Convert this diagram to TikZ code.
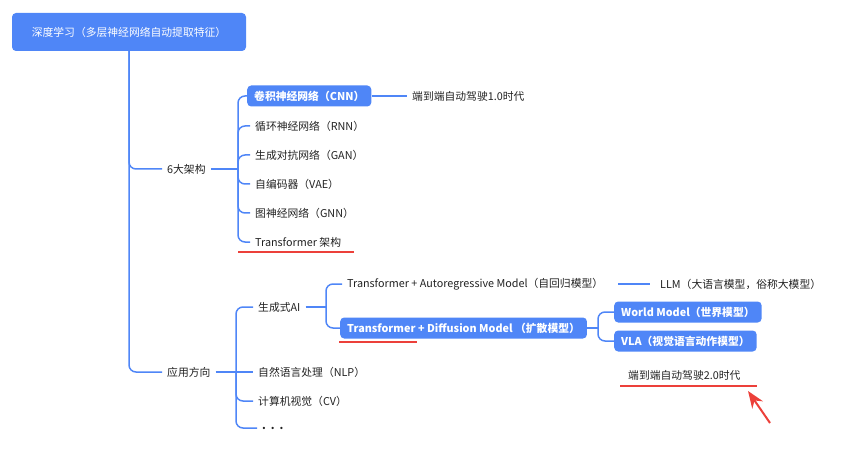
\documentclass[tikz,border=0pt]{standalone}
\usepackage{fontspec}
\setmainfont{Noto Sans CJK SC}
\usetikzlibrary{arrows.meta, positioning}
\definecolor{mapBlue}{RGB}{79,134,247}
\definecolor{markRed}{RGB}{236,64,58}
\definecolor{textGray}{RGB}{34,34,34}
\tikzset{
    rootBox/.style={rectangle, rounded corners=4pt, fill=mapBlue, text=white, minimum width=234pt, minimum height=38pt, font=\fontsize{10.8}{13}\selectfont},
    topicBox/.style={rectangle, rounded corners=4pt, fill=mapBlue, text=white, minimum height=21pt, inner xsep=7pt, anchor=west, font=\fontsize{10.8}{13}\selectfont\bfseries},
    leaf/.style={anchor=west, inner xsep=5pt, inner ysep=2pt, text=textGray, font=\fontsize{10.8}{13}\selectfont},
    mapLine/.style={draw=mapBlue, line width=1.5pt, rounded corners=7pt},
    redMark/.style={draw=markRed, line width=2.8pt},
    redArrow/.style={-{Stealth[length=17pt, width=13pt]}, draw=markRed, fill=markRed, line width=2pt},
}
\newcommand{\drawBranch}[2]{
    \draw[mapLine] (#1) |- (#2);
}
\begin{document}
\begin{tikzpicture}[x=1pt, y=-1pt]
    \useasboundingbox (0,0) rectangle (850,462);

    \node[rootBox] (root) at (129,32) {深度学习（多层神经网络自动提取特征）};
    \node[leaf] (arch) at (162,169) {6大架构};
    \node[leaf] (app) at (162,372) {应用方向};

    % 6 architectures
    \node[topicBox] (cnn) at (247,96) {卷积神经网络（CNN）};
    \node[leaf] (rnn) at (250,126) {循环神经网络（RNN）};
    \node[leaf] (gan) at (250,155) {生成对抗网络（GAN）};
    \node[leaf] (vae) at (250,184) {自编码器（VAE）};
    \node[leaf] (gnn) at (250,213) {图神经网络（GNN）};
    \node[leaf] (trans) at (250,242) {Transformer 架构};
    \node[leaf] (e2eOne) at (407,96) {端到端自动驾驶1.0时代};

    % applications
    \node[leaf] (genai) at (253,307) {生成式AI};
    \node[leaf] (nlp) at (253,372) {自然语言处理（NLP）};
    \node[leaf] (cv) at (253,401) {计算机视觉（CV）};
    \node[leaf] (more) at (257,428) {\textbf{.\ \ .\ \ .}};
    \node[leaf] (autoreg) at (342,284) {Transformer + Autoregressive Model（自回归模型）};
    \node[topicBox] (diffusion) at (340,328) {Transformer + Diffusion Model （扩散模型）};
    \node[leaf] (llm) at (655,284) {LLM（大语言模型，俗称大模型）};
    \node[topicBox] (world) at (614,312) {World Model（世界模型）};
    \node[topicBox] (vla) at (614,341) {VLA（视觉语言动作模型）};
    \node[leaf] (e2eTwo) at (623,375) {端到端自动驾驶2.0时代};

    \coordinate (archFork) at (238,169);
    \coordinate (appFork) at (236,372);
    \coordinate (genaiFork) at (326,307);
    \coordinate (diffFork) at (598,328);

    \drawBranch{root.south}{arch.west}
    \drawBranch{root.south}{app.west}

    \draw[mapLine] (arch.east) -- (archFork);
    \foreach \n in {cnn, rnn, gan, vae, gnn, trans}{
        \drawBranch{archFork}{\n.west}
    }
    \draw[mapLine] (cnn.east) -- (e2eOne.west);

    \draw[mapLine] (app.east) -- (nlp.west);
    \foreach \n in {genai, cv, more}{
        \drawBranch{appFork}{\n.west}
    }

    \draw[mapLine] (genai.east) -- (genaiFork);
    \drawBranch{genaiFork}{autoreg.west}
    \drawBranch{genaiFork}{diffusion.west}
    \draw[mapLine, shorten <=10pt, shorten >=5pt] (autoreg.east) -- (llm.west);

    \draw[mapLine] (diffusion.east) -- (diffFork);
    \drawBranch{diffFork}{world.west}
    \drawBranch{diffFork}{vla.west}

    % red marks
    \draw[redMark] (238,252) -- (354,252);
    \draw[redMark] (339,342) -- (417,342);
    \draw[redMark] (620,386) -- (757,386);
    \coordinate (arrowTail) at (770,423);
    \coordinate (arrowTip) at (748,391);
    \draw[redArrow] (arrowTail) -- (arrowTip);
\end{tikzpicture}
\end{document}
